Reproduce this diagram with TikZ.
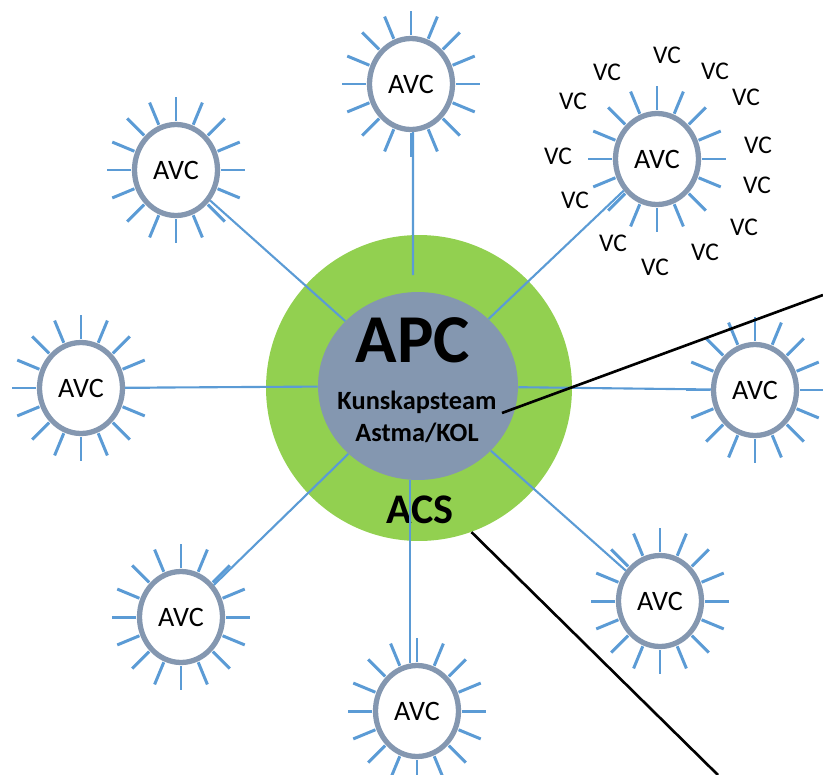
\documentclass[tikz,border=0pt]{standalone}
\usepackage{fontspec}
\setmainfont{Carlito}
\usetikzlibrary{shapes.geometric,positioning}
\definecolor{ringgreen}{HTML}{92D050}
\definecolor{slate}{HTML}{8497B0}
\definecolor{raybl}{HTML}{5B9BD5}

\begin{document}
\begin{tikzpicture}[x=0.02cm,y=-0.02cm]
\tikzset{
  avc/.style={ellipse, draw=slate, line width=3pt, fill=white, minimum width=1.66cm, minimum height=1.82cm, inner sep=0pt, font=\fontsize{16}{19}\selectfont},
  ray/.style={raybl, line width=1.7pt},
  lnk/.style={raybl, line width=1.2pt},
  zm/.style={black, line width=1.5pt},
  vc/.style={inner sep=0pt, font=\fontsize{14.5}{17}\selectfont}
}
\useasboundingbox (0,0) rectangle (823,775);
% ---------- centre ----------
\node[circle, fill=ringgreen, minimum size=6.12cm, inner sep=0pt] (acs) at (419,388) {};
\node[ellipse, fill=slate, minimum width=4cm, minimum height=3.76cm, inner sep=0pt] (apc) at (418,386) {};
\node[font=\bfseries\fontsize{39}{44}\selectfont] (apctxt) at (413,340) {APC};
\node[align=center, font=\bfseries\fontsize{15}{18.2}\selectfont] (team) at (417,417) {Kunskapsteam\\Astma/KOL};
\node[font=\bfseries\fontsize{24}{28}\selectfont] (acstxt) at (420,510) {ACS};
\coordinate (toptip) at (413,275);
% ---------- AVC units ----------
\node[avc] (avc1) at (411,84) {AVC};
\node[avc] (avc2) at (176,170) {AVC};
\node[avc] (avc3) at (657,159) {AVC};
\node[avc] (avc4) at (81,388) {AVC};
\node[avc] (avc5) at (755,390) {AVC};
\node[avc] (avc6) at (181,617) {AVC};
\node[avc] (avc7) at (417,711) {AVC};
\node[avc] (avc8) at (660,601) {AVC};
\foreach \n in {avc1,avc2,avc3,avc4,avc5,avc6,avc7,avc8}
  \foreach \a in {0,22.5,...,337.5}
    \draw[ray] ([shift={(\a:45 and 49)}]\n.center) -- ([shift={(\a:69 and 73)}]\n.center);
% ---------- links ----------
\draw[lnk] ([xshift=0.04cm]avc1.south) -- (toptip);
\foreach \n in {avc2,avc3,avc4,avc5,avc6,avc8}
  \draw[lnk] (\n) -- (apc);
\draw[lnk] ([xshift=-0.14cm]avc7.north) -- ([xshift=-0.14cm]avc7.north |- apc.south);
% ---------- VC ring ----------
\foreach \p [count=\i] in {(667,55),(607,72),(715,71),(573,101),(746,97),(558,156),(758,145),(575,200),(757,185),(613,243),(744,227),(655,267),(705,252)}
  \node[vc] (vc\i) at \p {VC};
% ---------- zoom lines ----------
\coordinate (zfoot) at (502,413);
\coordinate (zend1) at (823,295);
\coordinate (zend2) at (718,775);
\draw[zm] (zfoot) -- (zend1);
\draw[zm] (acs.-70) -- (zend2);
\end{tikzpicture}
\end{document}
